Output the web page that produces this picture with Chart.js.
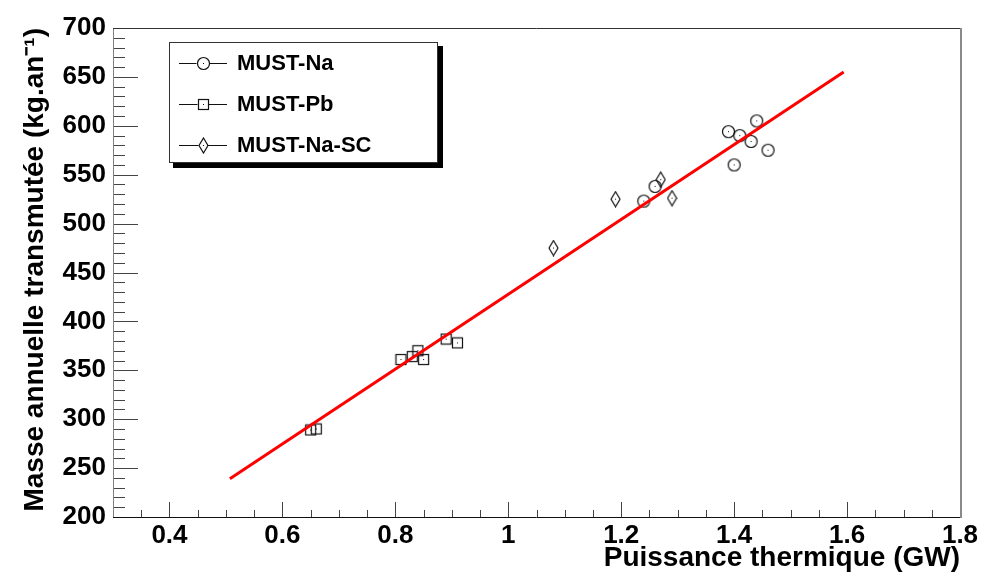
<!DOCTYPE html>
<html>
<head>
<meta charset="utf-8">
<script src="https://cdn.jsdelivr.net/npm/chart.js@4/dist/chart.umd.min.js"></script>
<style>
  html, body { margin: 0; padding: 0; background: #fff; }
  #wrap { width: 982px; height: 575px; position: relative; }
</style>
</head>
<body>
<div id="wrap"><canvas id="chart"></canvas></div>
<script>
// MUST-Na
const naPower = [1.39, 1.41, 1.44, 1.43, 1.46, 1.40, 1.26, 1.24];
const naMass = [594, 590, 605, 584, 575, 560, 538, 523];
// MUST-Pb
const pbPower = [0.65, 0.66, 0.81, 0.83, 0.84, 0.85, 0.89, 0.91];
const pbMass = [289, 290, 361, 364, 370, 361, 382, 378];
// MUST-Na-SC
const scPower = [1.08, 1.19, 1.27, 1.29];
const scMass = [475, 525, 545, 526];
// droite d'ajustement
const fitPower = [0.507, 1.594];
const fitMass = [239, 655];

const xTicks = [0.4, 0.6, 0.8, 1, 1.2, 1.4, 1.6, 1.8];
const yTicks = [200, 250, 300, 350, 400, 450, 500, 550, 600, 650, 700];

const FONT = "'Liberation Sans', Arial, sans-serif";
const INK = "#111";

const toPoints = (xs, ys) => xs.map((x, i) => ({ x: x, y: ys[i] }));

function markerCanvas(w, h, draw) {
  const c = document.createElement("canvas");
  c.width = w;
  c.height = h;
  const g = c.getContext("2d");
  g.strokeStyle = INK;
  g.lineWidth = 1.2;
  draw(g);
  g.fillStyle = INK;
  g.fillRect(Math.floor(w / 2), Math.floor(h / 2), 1, 1);
  return c;
}

const circleMark = markerCanvas(15, 15, (g) => {
  g.beginPath();
  g.arc(7.5, 7.5, 6, 0, Math.PI * 2);
  g.stroke();
});
const squareMark = markerCanvas(13, 13, (g) => {
  g.strokeRect(1.5, 1.5, 10, 10);
});
const diamondMark = markerCanvas(11, 17, (g) => {
  g.beginPath();
  g.moveTo(5.5, 1);
  g.lineTo(10, 8.5);
  g.lineTo(5.5, 16);
  g.lineTo(1, 8.5);
  g.closePath();
  g.stroke();
});

// cadre + graduations vers l'intérieur
const framePlugin = {
  id: "frame",
  afterDatasetsDraw(chart) {
    const { ctx, chartArea: a, scales } = chart;
    const x = scales.x, y = scales.y;
    ctx.save();
    ctx.lineWidth = 1;
    ctx.strokeStyle = "#444";
    ctx.beginPath();
    for (let v = 200; v <= 700.001; v += 10) {
      const py = Math.round(y.getPixelForValue(v)) + 0.5;
      const len = Math.abs(v % 50) < 0.001 ? 25 : 12;
      ctx.moveTo(a.left, py);
      ctx.lineTo(a.left + len, py);
    }
    for (let v = 0.3; v <= 1.8001; v += 0.05) {
      const px = Math.round(x.getPixelForValue(v)) + 0.5;
      const major = xTicks.some((t) => Math.abs(t - v) < 0.001);
      ctx.moveTo(px, a.bottom);
      ctx.lineTo(px, a.bottom - (major ? 15 : 7));
    }
    ctx.stroke();
    // axes
    ctx.strokeStyle = "#808080";
    ctx.beginPath();
    ctx.moveTo(a.left + 0.5, a.top);
    ctx.lineTo(a.left + 0.5, a.bottom);
    ctx.stroke();
    ctx.strokeStyle = "#111";
    ctx.beginPath();
    ctx.moveTo(a.left, a.bottom + 0.5);
    ctx.lineTo(a.right, a.bottom + 0.5);
    ctx.stroke();
    ctx.strokeStyle = "#333";
    ctx.beginPath();
    ctx.moveTo(a.left, a.top + 0.5);
    ctx.lineTo(a.right, a.top + 0.5);
    ctx.stroke();
    ctx.strokeStyle = "#8a8a8a";
    ctx.lineWidth = 2;
    ctx.beginPath();
    ctx.moveTo(a.right + 1, a.top);
    ctx.lineTo(a.right + 1, a.bottom + 1);
    ctx.stroke();
    ctx.restore();
  },
};

// légende façon ROOT, dans le cadre
const legendPlugin = {
  id: "rootLegend",
  afterDraw(chart) {
    const { ctx } = chart;
    const left = 169, top = 42, w = 269, h = 121;
    ctx.save();
    ctx.fillStyle = "#000";
    ctx.fillRect(left + 4, top + 4, w + 1, h + 1);
    ctx.fillStyle = "#fff";
    ctx.fillRect(left, top, w, h);
    ctx.strokeStyle = "#333";
    ctx.lineWidth = 1;
    ctx.strokeRect(left + 0.5, top + 0.5, w - 1, h - 1);
    const items = chart.data.datasets.filter((d) => d.label);
    items.forEach((d, i) => {
      const cy = 63 + i * 41;
      ctx.strokeStyle = INK;
      ctx.beginPath();
      ctx.moveTo(179, cy + 0.5);
      ctx.lineTo(227, cy + 0.5);
      ctx.stroke();
      const img = d.pointStyle;
      ctx.fillStyle = "#fff";
      ctx.fillRect(203 - img.width / 2 + 1, cy - img.height / 2 + 1, img.width - 2, img.height - 2);
      ctx.drawImage(img, Math.round(203 - img.width / 2), Math.round(cy - img.height / 2));
      ctx.fillStyle = "#000";
      ctx.font = "bold 22px " + FONT;
      ctx.textBaseline = "middle";
      ctx.textAlign = "left";
      ctx.fillText(d.label, 237, cy + 1);
    });
    ctx.restore();
  },
};

new Chart(document.getElementById("chart"), {
  type: "scatter",
  data: {
    datasets: [
      {
        data: toPoints(fitPower, fitMass),
        showLine: true,
        borderColor: "#ff0000",
        borderWidth: 3,
        pointRadius: 0,
        order: 0,
      },
      {
        label: "MUST-Na",
        data: toPoints(naPower, naMass),
        pointStyle: circleMark,
        order: 1,
      },
      {
        label: "MUST-Pb",
        data: toPoints(pbPower, pbMass),
        pointStyle: squareMark,
        order: 1,
      },
      {
        label: "MUST-Na-SC",
        data: toPoints(scPower, scMass),
        pointStyle: diamondMark,
        order: 1,
      },
    ],
  },
  options: {
    responsive: true,
    maintainAspectRatio: false,
    animation: false,
    layout: { padding: { left: 0, top: 28, right: 22, bottom: 0 } },
    plugins: {
      legend: { display: false },
      tooltip: { enabled: false },
    },
    scales: {
      x: {
        type: "linear",
        min: 0.3,
        max: 1.8,
        grid: { display: false, drawTicks: false },
        border: { display: false },
        afterBuildTicks: (s) => { s.ticks = xTicks.map((v) => ({ value: v })); },
        afterFit: (s) => { s.height = 58; },
        ticks: {
          padding: 3,
          color: "#000",
          font: { family: FONT, weight: "bold", size: 26 },
          callback: (v) => String(v),
        },
        title: {
          display: true,
          text: "Puissance thermique (GW)",
          align: "end",
          color: "#000",
          font: { family: FONT, weight: "bold", size: 28, lineHeight: 1 },
          padding: { top: 0, bottom: 3 },
        },
      },
      y: {
        type: "linear",
        min: 200,
        max: 700,
        grid: { display: false, drawTicks: false },
        border: { display: false },
        afterBuildTicks: (s) => { s.ticks = yTicks.map((v) => ({ value: v })); },
        afterFit: (s) => { s.width = 113; },
        ticks: {
          padding: 7,
          color: "#000",
          font: { family: FONT, weight: "bold", size: 26 },
        },
        title: {
          display: true,
          text: "Masse annuelle transmutée (kg.an⁻¹)",
          align: "end",
          color: "#000",
          font: { family: FONT, weight: "bold", size: 28, lineHeight: 1 },
          padding: { top: 21, bottom: 0 },
        },
      },
    },
  },
  plugins: [framePlugin, legendPlugin],
});
</script>
</body>
</html>
